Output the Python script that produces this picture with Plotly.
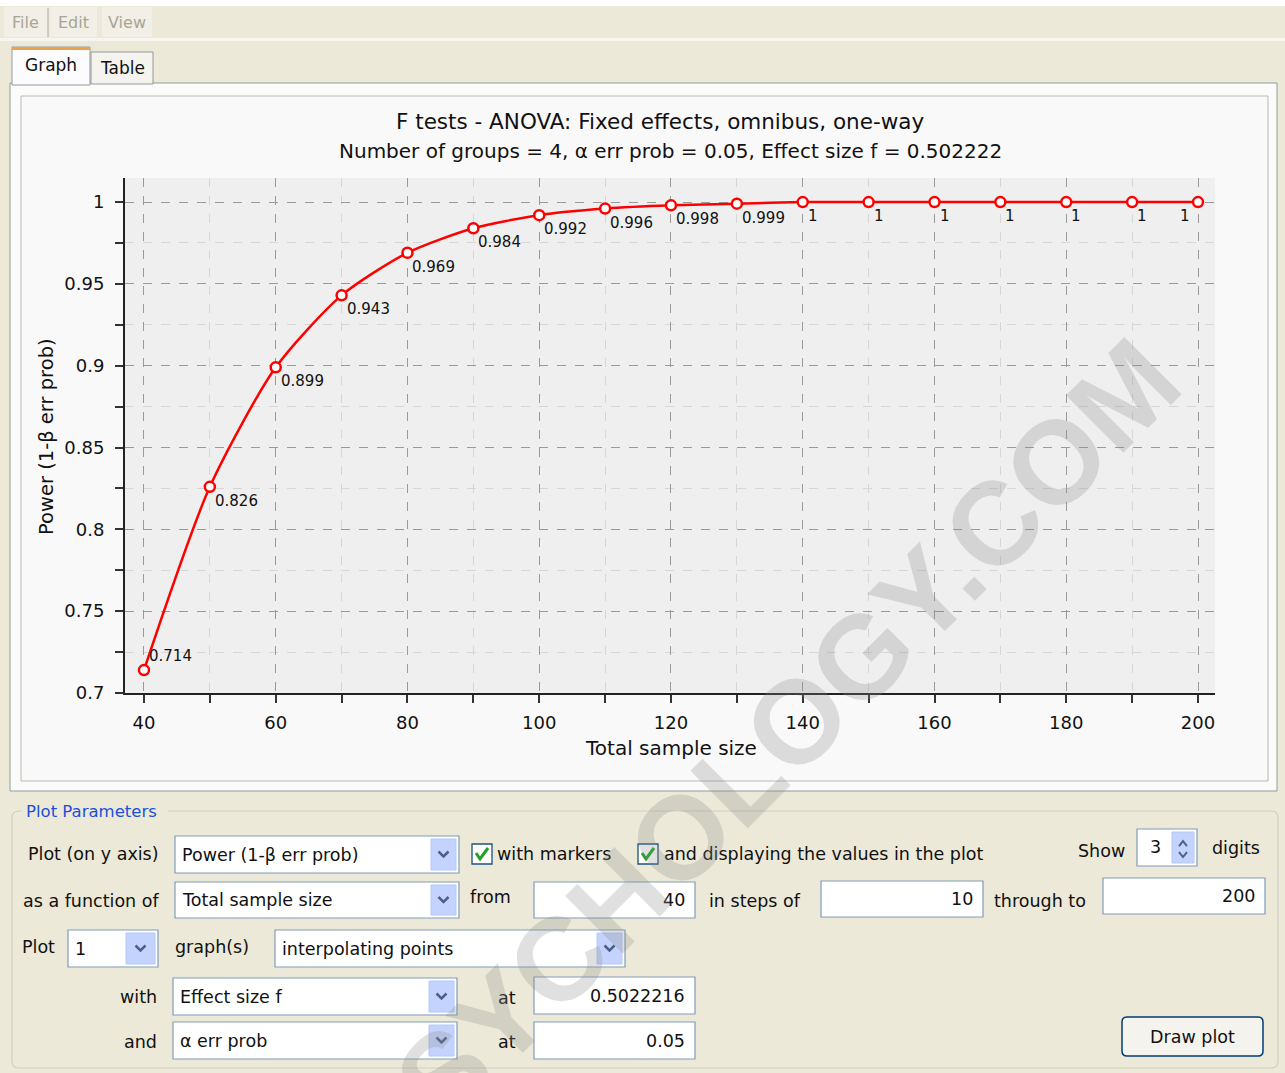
import plotly.graph_objects as go

# ---------------- data ----------------
sample_size = [40, 50, 60, 70, 80, 90, 100, 110, 120, 130, 140, 150, 160, 170, 180, 190, 200]
power = [0.714, 0.826, 0.899, 0.943, 0.969, 0.984, 0.992, 0.996, 0.998, 0.999,
         1.0, 1.0, 1.0, 1.0, 1.0, 1.0, 1.0]
x_tick_vals = [40, 60, 80, 100, 120, 140, 160, 180, 200]
x_tick_text = ["40", "60", "80", "100", "120", "140", "160", "180", "200"]
y_tick_vals = [0.7, 0.75, 0.8, 0.85, 0.9, 0.95, 1.0]
y_tick_text = ["0.7", "0.75", "0.8", "0.85", "0.9", "0.95", "1"]

title_main = "F tests - ANOVA: Fixed effects, omnibus, one-way"
title_sub = "Number of groups = 4, α err prob = 0.05, Effect size f = 0.502222"
x_title = "Total sample size"
y_title = "Power (1-β err prob)"

# ---------------- geometry ----------------
W, H = 1285, 1073
L, R, T, B = 125, 1215, 178, 693
PW, PH = R - L, B - T


def fx(px):
    return (px - L) / PW


def fy(py):
    return (B - py) / PH


FONT = "DejaVu Sans"
BEIGE = "#ece9d8"
GUI_SIZE = 17.5
shapes = []
annos = []


def rect(x0, y0, x1, y1, fill, line=None, lw=1):
    shapes.append(dict(type="rect", xref="paper", yref="paper",
                       x0=fx(x0), x1=fx(x1), y0=fy(y1), y1=fy(y0),
                       fillcolor=fill,
                       line=dict(color=line if line else fill, width=lw if line else 0),
                       layer="below"))


def path(points, color, width, close=False, fill=None):
    d = "M " + " L ".join(f"{fx(a):.5f},{fy(b):.5f}" for a, b in points)
    if close:
        d += " Z"
    shapes.append(dict(type="path", xref="paper", yref="paper", path=d,
                       line=dict(color=color, width=width),
                       fillcolor=fill if fill else "rgba(0,0,0,0)", layer="below"))


def rrect(x0, y0, x1, y1, r, fill, line, lw=1):
    P = lambda a, b: f"{fx(a):.5f},{fy(b):.5f}"
    d = (f"M {P(x0 + r, y0)} L {P(x1 - r, y0)} Q {P(x1, y0)} {P(x1, y0 + r)} "
         f"L {P(x1, y1 - r)} Q {P(x1, y1)} {P(x1 - r, y1)} L {P(x0 + r, y1)} "
         f"Q {P(x0, y1)} {P(x0, y1 - r)} L {P(x0, y0 + r)} Q {P(x0, y0)} {P(x0 + r, y0)} Z")
    shapes.append(dict(type="path", xref="paper", yref="paper", path=d,
                       line=dict(color=line, width=lw), fillcolor=fill, layer="below"))


def text(x, y, s, anchor="left", size=16, color="#111111", family=FONT, angle=0):
    annos.append(dict(xref="paper", yref="paper", x=fx(x), y=fy(y), text=s,
                      showarrow=False, xanchor=anchor, yanchor="middle",
                      textangle=angle, font=dict(family=family, size=size, color=color)))


def combo(x0, y0, x1, y1, label, bw=26):
    rect(x0, y0, x1, y1, "#ffffff", "#7f9db9", 1.2)
    rect(x1 - bw - 2, y0 + 3, x1 - 3, y1 - 3, "#c3d3fd", "#b5c8f5", 1)
    cx, cy = (x1 - bw / 2 - 2.5), (y0 + y1) / 2
    path([(cx - 5, cy - 3), (cx, cy + 2), (cx + 5, cy - 3)], "#4d6185", 2.5)
    text(x0 + 5, (y0 + y1) / 2, label, "left", GUI_SIZE)


def field(x0, y0, x1, y1, value):
    rect(x0, y0, x1, y1, "#ffffff", "#7f9db9", 1.2)
    text(x1 - 8, (y0 + y1) / 2, value, "right", GUI_SIZE)


def checkbox(x0, y0):
    rect(x0, y0, x0 + 20, y0 + 20, "#ffffff", "#1c5180", 1.3)
    path([(x0 + 4, y0 + 9), (x0 + 8, y0 + 15), (x0 + 16, y0 + 4)], "#21a121", 3)


# ---------------- window chrome ----------------
rect(0, 0, W, 6, "#ffffff")
for (a, b, s) in [(4, 47, "File"), (50, 97, "Edit"), (102, 152, "View")]:
    rect(a, 7, b, 37, "#f1efe6")
    text((a + b) / 2, 22, s, "center", 16, "#a8a596")
path([(48, 8), (48, 37)], "#b0ad9e", 1)
rect(0, 38, W, 41, "#f6f5ef")

# tab panel
rect(10, 83, 1277, 791, "#fbfbfa", "#919b9c", 1)
# tabs
rect(91, 52, 153, 84, "#f4f3ee", "#919b9c", 1)
text(122, 68, "Table", "center", 17)
rect(12, 47, 90, 85, "#fcfcfe", "#919b9c", 1)
rect(12, 47, 90, 50, "#e8a34c")
text(51, 65, "Graph", "center", 17)

# chart panel
rect(21, 96, 1268, 781, "#f9f9f9", "#b8b8b8", 1)
# plot area background
rect(L, T, R, B, "#efefef")

# chart titles
text(660, 122, title_main, "center", 21.5, "#111111")
text(670, 151, title_sub, "center", 20, "#111111")
text(671, 748, x_title, "center", 20, "#111111")
text(46, 437, y_title, "center", 19.5, "#111111", angle=-90)

# ---------------- plot parameters panel ----------------
rrect(12, 811, 1278, 1068, 7, "rgba(0,0,0,0)", "#d0d0bf", 1.2)
rect(22, 801, 168, 821, BEIGE)
text(24, 811, "Plot Parameters", "left", 16.5, "#1c4fd8")

# row 1
text(161, 854, "Plot (on y axis)", "right", GUI_SIZE)
combo(175, 836, 459, 873, "Power (1-β err prob)")
checkbox(472, 844)
text(495, 854, "with markers", "left", GUI_SIZE)
checkbox(638, 844)
text(662, 854, "and displaying the values in the plot", "left", GUI_SIZE)
text(1076, 851, "Show", "left", GUI_SIZE)
rect(1137, 829, 1197, 866, "#ffffff", "#7f9db9", 1.2)
text(1148, 847, "3", "left", GUI_SIZE)
rect(1172, 832, 1194, 863, "#c3d3fd", "#b5c8f5", 1)
path([(1179, 846), (1183, 841), (1187, 846)], "#4d6185", 2)
path([(1179, 852), (1183, 857), (1187, 852)], "#4d6185", 2)
text(1210, 848, "digits", "left", GUI_SIZE)

# row 2
text(161, 901, "as a function of", "right", GUI_SIZE)
combo(175, 882, 459, 918, "Total sample size")
text(468, 897, "from", "left", GUI_SIZE)
field(534, 882, 695, 918, "40")
text(707, 901, "in steps of", "left", GUI_SIZE)
field(821, 881, 983, 917, "10")
text(992, 901, "through to", "left", GUI_SIZE)
field(1103, 878, 1265, 914, "200")

# row 3
text(20, 947, "Plot", "left", GUI_SIZE)
combo(68, 930, 158, 967, "1", bw=30)
text(173, 947, "graph(s)", "left", GUI_SIZE)
combo(275, 930, 625, 967, "interpolating points")

# row 4
text(159, 997, "with", "right", GUI_SIZE)
combo(173, 978, 457, 1015, "Effect size f")
text(496, 998, "at", "left", GUI_SIZE)
field(534, 977, 695, 1014, "0.5022216")

# row 5
text(159, 1042, "and", "right", GUI_SIZE)
combo(173, 1022, 457, 1059, "α err prob")
text(496, 1042, "at", "left", GUI_SIZE)
field(534, 1022, 695, 1059, "0.05")

# button
rrect(1122, 1017, 1263, 1056, 5, "#f4f3ee", "#003c74", 1.5)
text(1192, 1037, "Draw plot", "center", GUI_SIZE)

# ---------------- data labels ----------------
for xv, yv in zip(sample_size, power):
    lab = f"{yv:.3f}".rstrip("0").rstrip(".")
    first = xv == sample_size[0]
    last = xv == sample_size[-1]
    annos.append(dict(xref="x", yref="y", x=xv, y=yv, text=lab, showarrow=False,
                      xanchor="right" if last else "left",
                      yanchor="bottom" if first else "top",
                      xshift=-6 if last else 3, yshift=3 if first else -3,
                      font=dict(family=FONT, size=15, color="#111111")))

# watermark
annos.append(dict(xref="paper", yref="paper", x=fx(787), y=fy(731), text="<b>SYCHOLOGY.COM</b>",
                  showarrow=False, xanchor="center", yanchor="middle", textangle=-45,
                  font=dict(family="Liberation Sans", size=118, color="rgba(140,140,140,0.27)")))

# ---------------- figure ----------------
fig = go.Figure()
fig.add_trace(go.Scatter(
    x=sample_size, y=power, mode="lines+markers",
    line=dict(color="#ff0000", width=2.5, shape="spline", smoothing=0.7),
    marker=dict(symbol="circle", size=10, color="#ffffff",
                line=dict(color="#ff0000", width=2.5)),
    cliponaxis=False, showlegend=False, hoverinfo="x+y"))

axis_common = dict(
    showline=True, linecolor="#222222", linewidth=2,
    ticks="outside", ticklen=8, tickwidth=2, tickcolor="#333333",
    showgrid=True, gridcolor="#9a9a9a", gridwidth=1, griddash="dash",
    zeroline=False, tickfont=dict(family=FONT, size=18, color="#111111"),
)

fig.update_layout(
    width=W, height=H, autosize=False,
    margin=dict(l=L, r=W - R, t=T, b=H - B, pad=0),
    paper_bgcolor=BEIGE, plot_bgcolor="rgba(0,0,0,0)",
    xaxis=dict(range=[37.12, 202.58], tickvals=x_tick_vals, ticktext=x_tick_text,
               ticklabelstandoff=4,
               minor=dict(dtick=10, tick0=0, ticks="outside", ticklen=8, tickwidth=2,
                          tickcolor="#333333", showgrid=True, gridcolor="#d6d6d6",
                          griddash="dash", gridwidth=1),
               **axis_common),
    yaxis=dict(range=[0.7, 1.0147], tickvals=y_tick_vals, ticktext=y_tick_text,
               ticklabelstandoff=7,
               minor=dict(dtick=0.025, tick0=0, ticks="outside", ticklen=8, tickwidth=2,
                          tickcolor="#333333", showgrid=True, gridcolor="#d6d6d6",
                          griddash="dash", gridwidth=1),
               **axis_common),
    shapes=shapes, annotations=annos,
    font=dict(family=FONT),
)

fig.write_html("out.html", config={"displayModeBar": False},
               post_script="document.body.style.margin='0px';document.body.style.overflow='hidden';")
